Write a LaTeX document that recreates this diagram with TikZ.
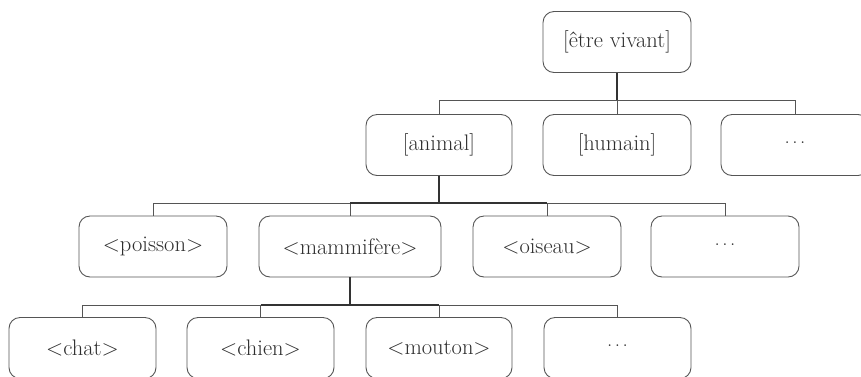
\documentclass[tikz,border=0pt]{standalone}
\usepackage{fontspec}
\definecolor{lin}{HTML}{555555}
\definecolor{thk}{HTML}{333333}
\definecolor{txt}{HTML}{2e2e2e}
\newcommand{\mydots}{\raisebox{4pt}{\fontsize{21}{24}\selectfont.\kern2.5pt.\kern2.5pt.}}
\begin{document}
\begin{tikzpicture}[x=1pt,y=-1pt,
  box/.style={draw=lin,line width=0.9pt,rounded corners=11pt,minimum height=61pt,minimum width=148pt,inner sep=0pt,text=txt,font=\fontsize{22.5}{26}\selectfont},
  thin/.style={draw=lin,line width=0.9pt},
  thk/.style={draw=thk,line width=1.7pt}]
\useasboundingbox (0,0) rectangle (861,376);
\begin{scope}
\clip (0,0) rectangle (861,376);
% nodes
\node[box] (top) at (617,42) {[être vivant]};
\node[box,minimum width=146pt] (animal) at (439,145) {[animal]};
\node[box] (humain) at (617,145) {[humain]};
\node[box] (dotsA) at (795,145) {\mydots};
\node[box] (poisson) at (153,246.5) {<poisson>};
\node[box,minimum width=182pt] (mamm) at (350,246.5) {<mammifère>};
\node[box] (oiseau) at (547,246.5) {<oiseau>};
\node[box] (dotsB) at (725,246.5) {\mydots};
\node[box,minimum width=147pt] (chat) at (82.5,348) {<chat>};
\node[box,minimum width=147pt] (chien) at (260.5,348) {<chien>};
\node[box,minimum width=146pt] (mouton) at (439,348) {<mouton>};
\node[box,minimum width=147pt] (dotsC) at (617.5,348) {\mydots};
\coordinate (b1) at (0,100);
\coordinate (b2) at (0,203);
\coordinate (b3) at (0,305);
% level 1
\draw[thin] (animal.north) -- (animal.north |- b1) -- (dotsA.north |- b1) -- (dotsA.north);
\draw[thin] (humain.north) -- (humain.north |- b1);
\draw[thk] (top.south) -- (top.south |- b1);
% level 2
\draw[thin] (poisson.north) -- (poisson.north |- b2) -- (dotsB.north |- b2) -- (dotsB.north);
\draw[thin] (mamm.north) -- (mamm.north |- b2);
\draw[thin] (oiseau.north) -- (oiseau.north |- b2);
\draw[thk] (mamm.north |- b2) -- (oiseau.north |- b2);
\draw[thk] (animal.south) -- (animal.south |- b2);
% level 3
\draw[thin] (chat.north) -- (chat.north |- b3) -- (dotsC.north |- b3) -- (dotsC.north);
\draw[thin] (chien.north) -- (chien.north |- b3);
\draw[thin] (mouton.north) -- (mouton.north |- b3);
\draw[thk] (chien.north |- b3) -- (mouton.north |- b3);
\draw[thk] (mamm.south) -- (mamm.south |- b3);
\end{scope}
\end{tikzpicture}
\end{document}
